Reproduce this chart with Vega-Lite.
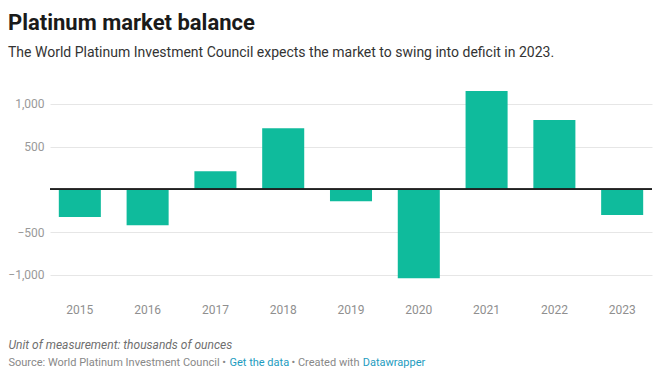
{
  "$schema": "https://vega.github.io/schema/vega-lite/v6.json",
  "autosize": {"type": "none"},
  "width": 602,
  "height": 188,
  "padding": {"left": 50, "top": 91, "right": 9, "bottom": 99},
  "background": "white",
  "config": {"view": {"stroke": null}, "font": "Roboto"},
  "title": {
    "text": "Platinum market balance",
    "subtitle": "The World Platinum Investment Council expects the market to swing into deficit in 2023.",
    "anchor": "start",
    "frame": "group",
    "dx": -42,
    "offset": 30,
    "font": "Roboto",
    "fontSize": 22,
    "fontWeight": 700,
    "color": "#1a1a1a",
    "subtitleFont": "Roboto",
    "subtitleFontSize": 14,
    "subtitleColor": "#333333",
    "subtitlePadding": 11
  },
  "data": {
    "values": [
      {"year": "2015", "balance": -325},
      {"year": "2016", "balance": -420},
      {"year": "2017", "balance": 210},
      {"year": "2018", "balance": 715},
      {"year": "2019", "balance": -140},
      {"year": "2020", "balance": -1040},
      {"year": "2021", "balance": 1150},
      {"year": "2022", "balance": 810},
      {"year": "2023", "balance": -300}
    ]
  },
  "resolve": {"axis": {"y": "independent"}},
  "layer": [
    {
      "mark": {"type": "bar", "color": "#0fbb9c"},
      "encoding": {
        "x": {
          "field": "year",
          "type": "ordinal",
          "scale": {"paddingInner": 0.38, "paddingOuter": 0.13},
          "axis": {
            "orient": "bottom",
            "labelAngle": 0,
            "labelFont": "Roboto",
            "labelFontSize": 12,
            "labelColor": "#8f8f8f",
            "labelPadding": 25,
            "ticks": false,
            "domain": false,
            "title": "Unit of measurement: thousands of ounces",
            "titleFont": "Roboto",
            "titleFontSize": 12,
            "titleFontStyle": "italic",
            "titleFontWeight": "normal",
            "titleColor": "#6f6f6f",
            "titleAlign": "left",
            "titleAnchor": "start",
            "titleBaseline": "alphabetic",
            "titleX": -42,
            "titleY": 69
          }
        },
        "y": {
          "field": "balance",
          "type": "quantitative",
          "scale": {"domain": [-1050, 1150], "nice": false, "zero": false},
          "axis": {
            "orient": "left",
            "values": [-1000, -500, 500, 1000],
            "format": ",.0f",
            "grid": true,
            "gridColor": "#e6e6e6",
            "ticks": false,
            "domain": false,
            "labelFont": "Roboto",
            "labelFontSize": 12,
            "labelColor": "#999999",
            "labelPadding": 6,
            "title": "Source: World Platinum Investment Council •\u00a0\u00a0\u00a0\u00a0\u00a0\u00a0\u00a0\u00a0\u00a0\u00a0\u00a0\u00a0\u00a0\u00a0\u00a0\u00a0\u00a0\u00a0\u00a0\u00a0\u00a0\u00a0\u00a0\u00a0• Created with",
            "titleFont": "Roboto",
            "titleFontSize": 11,
            "titleFontWeight": "normal",
            "titleColor": "#888888",
            "titleAngle": 0,
            "titleAlign": "left",
            "titleBaseline": "alphabetic",
            "titleX": -42,
            "titleY": 274
          }
        }
      }
    },
    {
      "mark": {"type": "rule", "color": "#222222", "strokeWidth": 1},
      "encoding": {
        "y": {
          "datum": 0,
          "type": "quantitative",
          "axis": {
            "orient": "right",
            "labels": false,
            "ticks": false,
            "domain": false,
            "grid": false,
            "title": "Get the data\u00a0\u00a0\u00a0\u00a0\u00a0\u00a0\u00a0\u00a0\u00a0\u00a0\u00a0\u00a0\u00a0\u00a0\u00a0\u00a0\u00a0\u00a0\u00a0\u00a0\u00a0\u00a0\u00a0\u00a0\u00a0\u00a0\u00a0Datawrapper",
            "titleFont": "Roboto",
            "titleFontSize": 11,
            "titleFontWeight": "normal",
            "titleColor": "#1d9cc0",
            "titleAngle": 0,
            "titleAlign": "left",
            "titleBaseline": "alphabetic",
            "titleX": -423,
            "titleY": 274
          }
        }
      }
    }
  ]
}
